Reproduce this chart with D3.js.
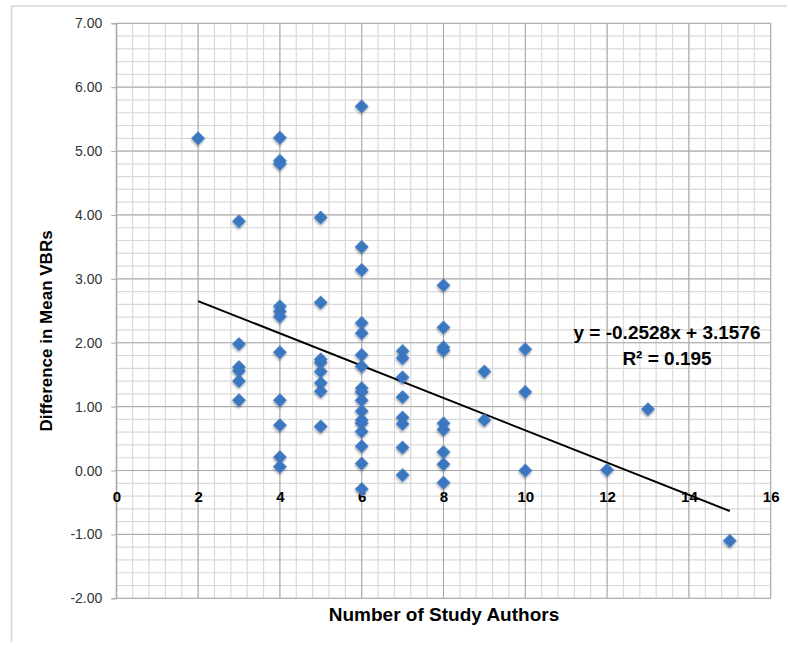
<!DOCTYPE html>
<html>
<head>
<meta charset="utf-8">
<script src="https://cdn.jsdelivr.net/npm/d3@7"></script>
<style>
  body { margin: 0; background: #fff; }
  svg { display: block; font-family: 'Liberation Sans', Arial, sans-serif; }
</style>
</head>
<body>
<div id="chart"></div>
<script>
// number of study authors, and the VBR differences seen for each count
const authorCounts = [2, 3, 4, 5, 6, 7, 8, 9, 10, 12, 13, 15];
const vbrDiffs = [
  [5.20],
  [3.90, 1.98, 1.62, 1.56, 1.40, 1.10],
  [5.21, 4.85, 4.80, 2.57, 2.49, 2.41, 1.85, 1.10, 0.71, 0.21, 0.06],
  [3.96, 2.63, 1.74, 1.69, 1.55, 1.37, 1.24, 0.69],
  [5.70, 3.50, 3.14, 2.31, 2.15, 1.81, 1.63, 1.29, 1.23, 1.10, 0.93, 0.79, 0.74, 0.61, 0.38, 0.11, -0.29],
  [1.87, 1.76, 1.46, 1.15, 0.83, 0.73, 0.36, -0.07],
  [2.90, 2.24, 1.93, 1.88, 0.74, 0.64, 0.29, 0.10, -0.19],
  [1.55, 0.79],
  [1.90, 1.23, 0.00],
  [0.01],
  [0.96],
  [-1.10]
];
const yTicks = [-2, -1, 0, 1, 2, 3, 4, 5, 6, 7];
const xTicks = [0, 2, 4, 6, 8, 10, 12, 14, 16];
const trendSlope = -0.2528;
const trendIntercept = 3.1576;
const trendLabel = 'y = -0.2528x + 3.1576';
const r2Label = 'R² = 0.195';

const points = [];
authorCounts.forEach((n, i) => {
  vbrDiffs[i].forEach((v) => points.push({ n, v }));
});

const width = 788;
const height = 646;

const x = d3.scaleLinear().domain([0, 16]).range([116.3, 770.7]);
const y = d3.scaleLinear().domain([-2, 7]).range([598.3, 23.3]);

const svg = d3.select('#chart').append('svg')
    .attr('width', width)
    .attr('height', height);

const defs = svg.append('defs');
const shadow = defs.append('filter')
    .attr('id', 'shadow')
    .attr('x', '-50%').attr('y', '-50%')
    .attr('width', '200%').attr('height', '200%');
shadow.append('feDropShadow')
    .attr('dx', 1).attr('dy', 1.5)
    .attr('stdDeviation', 1.2)
    .attr('flood-color', '#000')
    .attr('flood-opacity', 0.35);

// outer frame (only top and left edges show)
svg.append('line')
    .attr('x1', 11.5).attr('x2', 787).attr('y1', 6).attr('y2', 6)
    .style('stroke', '#d4d4d4').style('stroke-width', 1.5);
svg.append('line')
    .attr('x1', 11.5).attr('x2', 11.5).attr('y1', 6).attr('y2', 642)
    .style('stroke', '#d4d4d4').style('stroke-width', 1.5);

// minor grid
const grid = svg.append('g').attr('class', 'grid');
grid.selectAll('.vminor')
    .data(d3.range(0, 16.001, 0.4))
  .enter()
    .append('line')
    .attr('x1', (d) => x(d)).attr('x2', (d) => x(d))
    .attr('y1', y(7)).attr('y2', y(-2))
    .style('stroke', '#d9d9d9').style('stroke-width', 1.2);
grid.selectAll('.hminor')
    .data(d3.range(-2, 7.001, 0.2))
  .enter()
    .append('line')
    .attr('x1', x(0)).attr('x2', x(16))
    .attr('y1', (d) => y(d)).attr('y2', (d) => y(d))
    .style('stroke', '#d9d9d9').style('stroke-width', 1.2);

// major grid
grid.selectAll('.vmajor')
    .data(xTicks)
  .enter()
    .append('line')
    .attr('x1', (d) => x(d)).attr('x2', (d) => x(d))
    .attr('y1', y(7)).attr('y2', y(-2))
    .style('stroke', '#a8a8a8').style('stroke-width', 1);
grid.selectAll('.hmajor')
    .data(yTicks)
  .enter()
    .append('line')
    .attr('x1', x(0)).attr('x2', x(16))
    .attr('y1', (d) => y(d)).attr('y2', (d) => y(d))
    .style('stroke', '#a8a8a8').style('stroke-width', 1);

const fmt = d3.format('.2f');
const yAxis = d3.axisLeft(y)
    .tickValues(yTicks)
    .tickFormat((d) => fmt(d).replace('−', '-'))
    .tickSize(5)
    .tickPadding(9);

const yG = svg.append('g')
    .attr('transform', `translate(${x(0)},0)`)
    .call(yAxis)
    .attr('font-size', 14)
    .attr('font-family', 'Liberation Sans, Arial, sans-serif');
yG.select('.domain').style('stroke', '#a8a8a8');
yG.selectAll('.tick line').style('stroke', '#a8a8a8');
yG.selectAll('text')
    .style('font-size', '14px')
    .style('fill', '#333');

const xAxis = d3.axisBottom(x)
    .tickValues(xTicks)
    .tickSize(0)
    .tickPadding(21);

const xG = svg.append('g')
    .attr('transform', `translate(0,${y(0)})`)
    .call(xAxis)
    .attr('font-size', 15)
    .attr('font-family', 'Liberation Sans, Arial, sans-serif');
xG.select('.domain').remove();
xG.selectAll('text')
    .style('font-size', '15px')
    .style('font-weight', 'bold')
    .style('fill', '#000');

// trend line over the data range
const xExtent = d3.extent(points, (d) => d.n);
svg.append('line')
    .attr('x1', x(xExtent[0]))
    .attr('y1', y(trendSlope * xExtent[0] + trendIntercept))
    .attr('x2', x(xExtent[1]))
    .attr('y2', y(trendSlope * xExtent[1] + trendIntercept))
    .style('stroke', '#000')
    .style('stroke-width', 2);

// markers: squares turned 45 degrees
const diamond = d3.symbol().type(d3.symbolSquare).size(95);
svg.append('g')
    .selectAll('path')
    .data(points)
  .enter()
    .append('path')
    .attr('d', diamond)
    .attr('transform', (d) => `translate(${x(d.n)},${y(d.v)}) rotate(45)`)
    .attr('filter', 'url(#shadow)')
    .style('fill', '#3a76c0');

svg.append('text')
    .attr('x', 667)
    .attr('y', 339)
    .style('text-anchor', 'middle')
    .style('font-size', '19px')
    .style('font-weight', 'bold')
    .text(trendLabel);
svg.append('text')
    .attr('x', 667)
    .attr('y', 365)
    .style('text-anchor', 'middle')
    .style('font-size', '19px')
    .style('font-weight', 'bold')
    .text(r2Label);

svg.append('text')
    .attr('x', 444)
    .attr('y', 621)
    .style('text-anchor', 'middle')
    .style('font-size', '19px')
    .style('font-weight', 'bold')
    .text('Number of Study Authors');

svg.append('text')
    .attr('transform', 'rotate(-90)')
    .attr('x', -331)
    .attr('y', 52)
    .style('text-anchor', 'middle')
    .style('font-size', '17px')
    .style('font-weight', 'bold')
    .text('Difference in Mean VBRs');
</script>
</body>
</html>
